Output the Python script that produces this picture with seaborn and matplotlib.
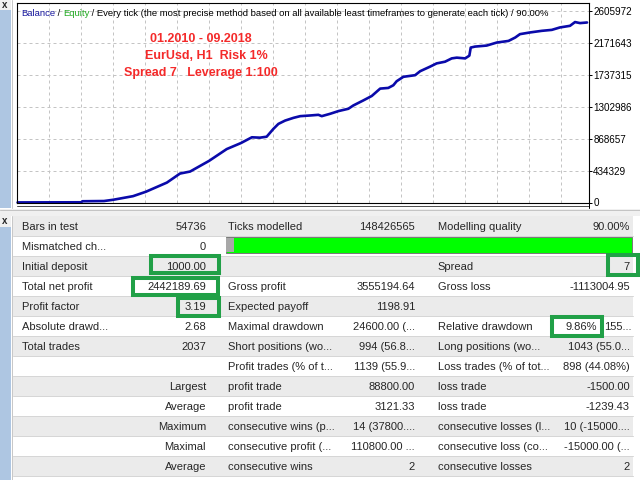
import numpy as np
import pandas as pd
import matplotlib
matplotlib.use("Agg")
import matplotlib.pyplot as plt
import seaborn as sns
from matplotlib.patches import Rectangle
from matplotlib.lines import Line2D

# ---------------- data ----------------
trade_no = [0, 228, 232, 309, 342, 413, 459, 534, 581, 617, 685, 748, 799, 838, 867,
            891, 915, 933, 957, 987, 1011, 1046, 1076, 1088, 1118, 1148, 1183, 1201,
            1237, 1267, 1297, 1326, 1344, 1356, 1380, 1422, 1440, 1475, 1499, 1529,
            1553, 1571, 1601, 1616, 1621, 1636, 1678, 1714, 1756, 1780, 1797, 1833,
            1875, 1911, 1940, 1976, 1994, 2012, 2037]
balance = [1000, 3000, 17000, 20000, 37000, 86000, 146000, 270000, 393000, 420000,
           565000, 725000, 807000, 885000, 880000, 893000, 999000, 1067000, 1112000,
           1149000, 1172000, 1181000, 1190000, 1172000, 1204000, 1241000, 1272000,
           1317000, 1386000, 1446000, 1546000, 1555000, 1591000, 1646000, 1706000,
           1728000, 1782000, 1843000, 1888000, 1911000, 1956000, 1966000, 1956000,
           1993000, 2103000, 2116000, 2130000, 2171000, 2193000, 2239000, 2285000,
           2308000, 2330000, 2343000, 2376000, 2398000, 2449000, 2435000, 2443190]

y_tick_values = [0, 434329, 868657, 1302986, 1737315, 2171643, 2605972]
y_tick_labels = ["0", "434329", "868657", "1302986", "1737315", "2171643", "2605972"]

title_parts = ["Balance", " / ", "Equity",
               " / Every tick (the most precise method based on all available least "
               "timeframes to generate each tick) / 90.00%"]
title_colors = ["#1a1aa0", "#000000", "#22aa22", "#000000"]

note_lines = ["01.2010 - 09.2018", "EurUsd, H1  Risk 1%", "Spread 7   Leverage 1:100"]

col1_labels = ["Bars in test", "Mismatched ch...", "Initial deposit", "Total net profit",
               "Profit factor", "Absolute drawd...", "Total trades", "", "Largest",
               "Average", "Maximum", "Maximal", "Average"]
col1_values = ["54736", "0", "1000.00", "2442189.69", "3.19", "2.68", "2037", "", "",
               "", "", "", ""]
col2_labels = ["Ticks modelled", "", "", "Gross profit", "Expected payoff",
               "Maximal drawdown", "Short positions (wo...", "Profit trades (% of t...",
               "profit trade", "profit trade", "consecutive wins (p...",
               "consecutive profit (...", "consecutive wins"]
col2_values = ["148426565", "", "", "3555194.64", "1198.91", "24600.00 (...",
               "994 (56.8...", "1139 (55.9...", "88800.00", "3121.33", "14 (37800....",
               "110800.00 ...", "2"]
col3_labels = ["Modelling quality", "", "Spread", "Gross loss", "", "Relative drawdown",
               "Long positions (wo...", "Loss trades (% of tot...", "loss trade",
               "loss trade", "consecutive losses (l...", "consecutive loss (co...",
               "consecutive losses"]
col3_values = ["90.00%", "", "7", "-1113004.95", "", "9.86%", "1043 (55.0...",
               "898 (44.08%)", "-1500.00", "-1239.43", "10 (-15000....",
               "-15000.00 (...", "2"]
col3_extra = ["", "", "", "", "", "155...", "", "", "", "", "", "", ""]

# ---------------- style ----------------
sns.set_style("white")
plt.rcParams['font.family'] = ['Liberation Sans', 'DejaVu Sans']

fig = plt.figure(figsize=(6.4, 4.8), dpi=100)
fig.patch.set_facecolor("white")

bg = fig.add_axes([0, 0, 1, 1], zorder=0)
bg.set_xlim(0, 640)
bg.set_ylim(480, 0)
bg.axis("off")


def rect(x0, y0, x1, y1, **kw):
    bg.add_patch(Rectangle((x0, y0), x1 - x0, y1 - y0, **kw))


def hline(x0, x1, y, color, lw=0.72):
    bg.add_line(Line2D([x0, x1], [y, y], color=color, lw=lw))


def vline(x, y0, y1, color, lw=0.72):
    bg.add_line(Line2D([x, x], [y0, y1], color=color, lw=lw))


# left strips
strip_blue = "#aec6e2"
rect(0, 0, 11, 10, facecolor="#f0f0f0", edgecolor="none")
bg.text(4.5, 4.5, "x", ha="center", va="center", fontsize=7, fontweight="bold")
rect(0, 10, 10.5, 208, facecolor=strip_blue, edgecolor="none")
vline(11.5, 0, 208, "#c8c8c8")

# separator band
rect(0, 208.5, 640, 216, facecolor="#f0f0f0", edgecolor="none")
hline(0, 640, 209.5, "#c4c4c4")

rect(0, 216, 11, 227, facecolor="#f0f0f0", edgecolor="none")
bg.text(4.5, 221, "x", ha="center", va="center", fontsize=7, fontweight="bold")
rect(0, 227, 10.5, 480, facecolor=strip_blue, edgecolor="none")
vline(11.5, 216, 480, "#c8c8c8")

# ---------------- table ----------------
row_top = 216
row_h = 20
for i in range(len(col1_labels)):
    top = row_top + i * row_h
    rect(12.5, top, 633, top + row_h, facecolor="#ebebeb" if i % 2 == 0 else "white",
         edgecolor="none")
    hline(12.5, 633, top + row_h, "#d6d6d6")
    yc = top + row_h / 2 + 0.5
    fs = 8
    if col1_values[i] == "" and col1_labels[i] != "":
        bg.text(206, yc, col1_labels[i], ha="right", va="center", fontsize=fs)
    else:
        bg.text(21.5, yc, col1_labels[i], ha="left", va="center", fontsize=fs)
        bg.text(206, yc, col1_values[i], ha="right", va="center", fontsize=fs)
    bg.text(227.5, yc, col2_labels[i], ha="left", va="center", fontsize=fs)
    bg.text(415, yc, col2_values[i], ha="right", va="center", fontsize=fs)
    bg.text(437.5, yc, col3_labels[i], ha="left", va="center", fontsize=fs)
    if col3_extra[i]:
        bg.text(597, yc, col3_values[i], ha="right", va="center", fontsize=fs)
        bg.text(604, yc, col3_extra[i], ha="left", va="center", fontsize=fs)
    else:
        bg.text(630, yc, col3_values[i], ha="right", va="center", fontsize=fs)

# progress bar (modelling quality)
rect(225.5, 237, 632, 252.5, facecolor="#00ff00", edgecolor="#7a7a7a", lw=0.72)
rect(226, 237.5, 233.5, 252, facecolor="#a8a8a8", edgecolor="none")

# green highlight boxes
hl = "#21a047"
hl_lw = 2.9
for (x0, y0, x1, y1) in [(150.5, 256, 219, 273), (132.5, 277.5, 217.5, 294.5),
                         (178, 298, 218.5, 315.5), (607.5, 255, 637.5, 274.5),
                         (552, 316.5, 601.5, 336)]:
    rect(x0, y0, x1, y1, facecolor="none", edgecolor=hl, lw=hl_lw, zorder=5)

# ---------------- chart ----------------
L, R, T, B = 17.3, 589, 3.3, 202.5
ax = fig.add_axes([L / 640, 1 - B / 480, (R - L) / 640, (B - T) / 480], zorder=2)
ax.set_facecolor("white")

df = pd.DataFrame({"trade": trade_no, "balance": balance})
sns.lineplot(data=df, x="trade", y="balance", ax=ax, color="#0a0aaa", linewidth=1.9,
             sort=False)
for ln in ax.lines:
    ln.set_clip_on(False)

xmin, xmax = -1, 2044
ax.set_xlim(xmin, xmax)
ax.set_ylim(0, 2703700)
step = (xmax - xmin) * 32 / (R - L)
ax.set_xticks(xmin + step * np.arange(1, 18))
ax.set_yticks(y_tick_values)
ax.set_yticklabels(y_tick_labels)
ax.yaxis.tick_right()
ax.tick_params(axis="y", length=2, width=0.72, pad=1.0, labelsize=7.1, colors="black")
ax.tick_params(axis="x", length=0, labelbottom=False)
ax.set_xlabel("")
ax.set_ylabel("")
ax.grid(True, color="#c4c4c4", linestyle=(0, (3, 3)), linewidth=0.72)
for s in ax.spines.values():
    s.set_visible(True)
    s.set_color("black")
    s.set_linewidth(0.8)

# time scale line under the plot
bg.add_line(Line2D([17.3, 589], [205.5, 205.5], color="#505050", lw=0.72))
vline(589, 202, 208, "black")

# title
t = ax.text(21, 18, title_parts[0], transform=bg.transData, ha="left", va="bottom",
            fontsize=6.8, color=title_colors[0])
for part, col in zip(title_parts[1:], title_colors[1:]):
    t = ax.annotate(part, xy=(1, 0), xycoords=t, ha="left", va="bottom",
                    fontsize=6.8, color=col)

# red notes
for k, (txt, xc) in enumerate(zip(note_lines, [200.5, 206, 201])):
    ax.text(xc, 39 + 17 * k, txt, transform=bg.transData, ha="center", va="center",
            fontsize=9, fontweight="bold", color="#f42a2a")

fig.savefig("out.png", dpi=100)
